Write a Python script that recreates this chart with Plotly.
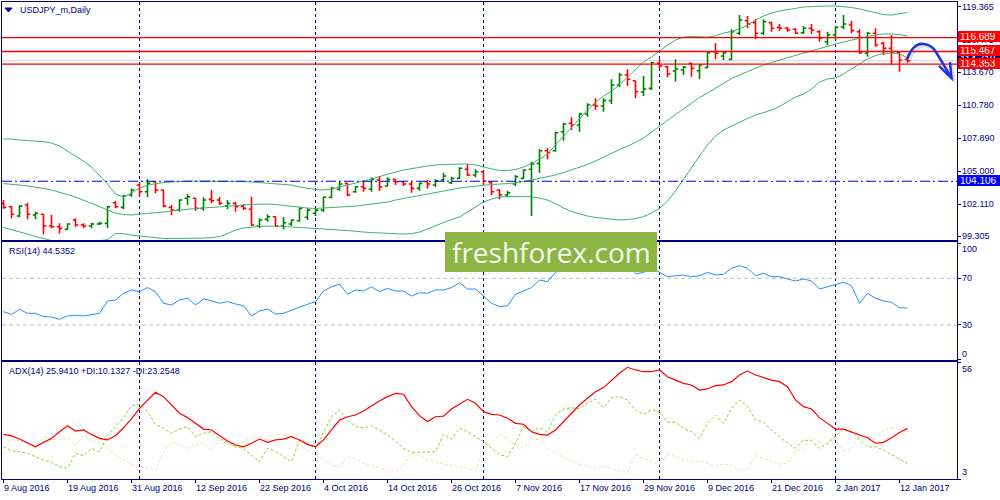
import plotly.graph_objects as go
from plotly.subplots import make_subplots
import pandas as pd

# ---------------- data ----------------
dates = pd.bdate_range("2016-08-09", periods=114)

opens = [102.17,101.87,101.06,102.02,101.15,101.21,100.18,100.12,99.89,100.71,
         100.27,100.18,100.36,100.42,102.22,101.82,102.90,103.77,103.19,104.06,
         103.34,101.82,101.58,102.61,102.61,101.73,102.52,102.46,101.93,102.17,
         101.93,101.65,100.18,100.77,101.00,100.18,100.36,100.65,100.95,101.30,
         101.58,102.70,103.40,103.92,103.19,103.62,103.40,104.21,103.69,104.27,
         104.06,103.86,103.48,104.06,103.77,104.21,103.97,104.36,105.15,104.65,
         104.94,104.01,103.34,102.90,103.86,104.36,105.15,105.67,106.78,106.78,
         108.44,109.18,109.03,109.99,110.78,110.69,111.16,112.53,113.41,112.91,
         111.92,112.24,114.43,114.13,113.76,113.84,114.43,113.78,114.05,115.45,
         115.07,114.78,117.06,118.16,117.99,117.06,117.99,117.58,117.50,117.41,
         117.11,117.50,117.20,116.32,116.91,117.61,117.78,117.20,115.31,117.06,
         116.18,115.74,115.36,114.78]
highs = [102.46,101.93,102.00,102.22,101.44,101.21,101.15,100.42,100.42,100.86,
         100.42,100.47,100.56,101.93,102.37,102.90,103.48,103.92,104.27,104.06,
         103.34,102.02,102.52,102.99,102.61,102.70,103.34,102.70,102.46,102.31,
         102.11,102.75,100.86,101.21,101.06,100.95,100.77,101.82,101.73,101.73,
         102.75,103.62,104.06,103.97,103.69,104.06,104.45,104.56,104.45,104.27,
         104.15,104.06,103.97,104.21,104.27,104.85,104.50,105.32,105.61,105.15,
         105.03,104.06,103.40,103.27,104.65,105.15,105.81,106.90,106.99,108.44,
         109.23,109.70,110.11,110.93,111.37,111.37,113.03,113.61,113.91,112.91,
         113.32,114.57,114.78,114.19,114.78,114.19,114.48,114.37,115.45,116.18,
         115.45,117.41,118.66,118.57,118.28,118.28,118.07,117.87,117.64,117.50,
         117.70,117.87,117.35,117.20,117.70,118.66,118.16,117.41,117.20,117.50,
         116.32,116.91,115.45,114.96]
lows = [101.70,100.86,100.95,100.77,100.77,99.46,99.98,99.54,99.83,100.12,
        99.98,99.98,100.27,99.98,101.73,101.65,102.75,102.81,102.70,103.05,
        101.82,101.15,101.44,102.02,101.52,101.52,102.17,102.02,101.65,101.44,
        101.58,100.18,99.98,100.56,100.12,99.89,100.18,100.56,100.71,101.06,
        101.44,102.61,103.27,102.81,103.10,103.19,103.19,103.27,103.62,103.77,
        103.69,103.10,103.27,103.48,103.62,104.06,103.86,104.27,104.56,104.45,
        103.77,102.90,102.52,102.75,103.69,104.27,101.06,104.85,106.02,106.69,
        107.65,108.59,108.44,109.75,110.34,110.19,110.87,112.33,112.44,111.37,
        111.57,112.09,113.91,113.21,112.82,113.41,113.26,113.03,113.99,114.78,
        114.72,114.72,116.91,117.50,116.53,116.91,117.20,117.29,117.20,117.00,
        117.00,117.00,116.32,116.03,116.47,117.41,117.06,115.25,115.01,115.88,
        115.16,114.28,113.70,114.48]
closes = [101.82,101.21,101.93,101.21,101.30,100.18,100.12,99.98,100.36,100.27,
          100.18,100.36,100.42,101.87,101.87,102.81,103.34,103.19,103.92,103.34,
          101.93,101.58,102.46,102.75,101.73,102.46,102.40,102.17,102.17,101.87,
          101.73,100.27,100.71,101.00,100.18,100.47,100.71,101.73,101.58,101.58,
          102.70,103.48,103.86,102.90,103.62,103.48,104.27,103.62,104.27,104.06,
          103.86,103.48,103.92,103.86,104.15,104.56,104.36,105.24,104.65,104.94,
          104.12,103.19,102.90,103.10,104.50,105.09,105.61,106.78,106.60,108.35,
          109.12,109.03,109.99,110.78,110.69,111.16,112.53,113.41,113.03,111.94,
          112.18,114.48,114.19,113.49,113.93,114.08,113.99,114.28,115.36,115.31,
          115.36,117.20,118.22,117.87,117.06,118.07,117.50,117.50,117.35,117.06,
          117.50,117.35,116.62,116.91,117.58,117.87,117.29,115.36,117.06,116.03,
          115.74,115.45,114.72,114.66]

bb_upper = [107.80,107.80,107.71,107.67,107.63,107.57,107.45,107.19,106.75,106.31,
            105.87,105.35,104.65,103.86,102.99,102.72,103.07,103.51,103.77,103.90,
            103.99,104.04,104.08,104.12,104.12,104.12,104.12,104.12,104.12,104.12,
            104.08,104.04,103.99,103.95,103.90,103.86,103.77,103.60,103.47,103.38,
            103.34,103.42,103.60,103.77,103.95,104.12,104.30,104.52,104.74,104.91,
            105.09,105.22,105.35,105.44,105.53,105.57,105.61,105.61,105.61,105.53,
            105.35,105.17,105.04,105.04,105.13,105.35,105.66,106.05,106.49,107.28,
            108.06,108.85,109.64,110.34,111.04,111.57,112.00,112.53,113.23,113.93,
            114.54,114.98,115.51,116.03,116.47,116.73,116.78,116.78,116.73,116.82,
            117.08,117.22,117.43,117.78,118.22,118.57,118.84,119.01,119.14,119.27,
            119.36,119.40,119.45,119.45,119.45,119.40,119.32,119.19,119.01,118.84,
            118.70,118.66,118.75,118.88]
bb_mid = [103.90,103.86,103.77,103.69,103.55,103.47,103.34,103.16,102.94,102.72,
          102.46,102.20,101.89,101.58,101.32,101.19,101.15,101.23,101.28,101.32,
          101.41,101.50,101.58,101.67,101.72,101.76,101.80,101.85,101.93,101.98,
          102.02,102.07,102.11,102.11,102.07,101.98,101.89,101.80,101.76,101.72,
          101.76,101.80,101.80,101.85,101.93,102.02,102.11,102.20,102.28,102.46,
          102.59,102.72,102.85,102.99,103.16,103.29,103.42,103.51,103.60,103.69,
          103.77,103.82,103.86,103.90,103.95,104.08,104.21,104.34,104.47,104.65,
          104.87,105.09,105.31,105.57,105.88,106.23,106.58,106.88,107.19,107.50,
          107.89,108.41,108.98,109.47,109.95,110.43,110.91,111.44,111.83,112.27,
          112.71,113.10,113.41,113.71,114.02,114.28,114.50,114.72,114.94,115.11,
          115.33,115.51,115.73,115.95,116.12,116.30,116.47,116.65,116.78,116.91,
          117.00,117.00,116.95,116.82]
bb_lower = [100.05,99.88,99.66,99.48,99.26,99.09,98.91,98.83,98.78,98.74,
            98.74,98.78,98.87,99.00,99.52,99.52,99.39,99.31,99.22,99.13,
            99.09,99.09,99.09,99.09,99.09,99.13,99.17,99.26,99.52,99.83,
            100.01,100.10,100.14,100.18,100.18,100.14,100.10,100.05,99.98,99.92,
            99.88,99.83,99.83,99.79,99.70,99.66,99.61,99.57,99.52,99.48,
            99.48,99.52,99.66,99.92,100.23,100.49,100.75,100.97,101.41,101.85,
            102.28,102.55,102.72,102.77,102.77,102.77,102.75,102.64,102.46,102.15,
            101.76,101.45,101.23,101.06,100.93,100.84,100.75,100.71,100.75,100.84,
            101.01,101.32,101.72,102.37,103.25,104.30,105.35,106.31,107.28,108.06,
            108.59,108.94,109.29,109.60,109.90,110.12,110.34,110.65,111.04,111.48,
            111.74,112.18,112.79,113.06,113.14,113.49,113.93,114.37,114.81,115.11,
            115.29,115.33,115.25,114.89]

rsi = [41.4,39.1,43.4,40.0,40.0,37.1,36.8,34.9,37.7,38.3,
       37.7,39.1,40.0,50.6,51.4,57.1,60.0,58.5,62.0,58.5,
       48.6,47.1,51.4,52.9,47.1,52.3,50.8,48.6,50.0,48.0,
       46.5,37.7,42.0,43.7,39.4,40.0,42.8,45.2,47.7,50.0,
       59.1,62.8,64.9,56.3,60.0,59.1,62.8,58.5,61.4,59.1,
       59.1,54.8,57.7,57.1,60.0,60.0,62.0,66.2,60.8,60.8,
       54.8,48.6,45.7,46.3,56.3,59.1,62.0,68.5,67.1,75.1,
       78.0,77.0,80.0,82.0,81.0,83.0,86.0,88.0,85.0,74.0,
       75.0,80.0,75.1,71.4,72.2,72.8,71.4,72.2,75.1,72.8,
       73.4,78.6,80.8,78.6,72.2,74.3,71.4,71.4,69.4,67.7,
       69.4,67.7,60.8,62.8,64.9,66.6,63.7,48.6,57.1,52.9,
       50.6,49.4,44.8,44.5352]

adx = [23.2,22.5,21.1,19.2,17.6,19.6,21.4,24.4,27.1,24.7,
       25.2,23.2,21.4,20.7,22.6,26.2,30.2,35.0,38.8,42.3,
       40.3,36.5,32.8,30.8,28.2,25.6,25.2,22.5,20.2,18.4,
       17.6,19.2,21.1,19.6,20.7,21.1,22.2,20.7,18.7,17.6,
       20.7,25.2,29.7,31.2,32.0,33.8,36.2,38.3,40.3,41.8,
       41.4,35.8,31.7,29.0,31.2,31.5,34.7,36.8,39.1,37.3,
       33.5,32.3,32.0,30.5,28.2,27.8,24.4,23.2,22.9,25.2,
       29.0,32.8,36.5,39.6,42.5,44.4,47.8,50.9,53.6,52.4,
       51.6,51.6,52.4,49.3,47.8,46.3,45.6,43.3,43.8,45.3,
       45.6,47.1,50.1,51.9,50.1,48.9,47.8,47.1,44.8,38.8,
       35.8,34.7,30.8,28.2,25.6,25.6,24.4,22.9,21.7,19.2,
       19.6,21.7,24.1,25.941]
plus_di = [17.6,15.7,15.4,14.6,13.1,11.6,10.6,8.6,7.9,14.6,
           13.6,16.9,15.4,22.9,26.7,30.8,36.2,36.8,33.5,27.8,
           26.0,23.7,25.6,26.7,22.2,23.7,24.4,21.4,19.6,17.6,
           16.9,13.9,10.8,16.9,15.4,13.1,10.8,20.7,19.2,16.9,
           24.4,31.2,34.3,29.7,26.7,26.2,27.1,25.2,22.9,20.2,
           16.9,15.1,15.1,15.1,15.4,23.2,21.1,26.0,24.4,22.2,
           19.9,16.9,14.0,13.1,19.2,26.7,24.4,26.2,24.4,32.0,
           34.7,35.3,34.7,37.3,39.2,35.3,39.8,40.3,38.8,34.3,
           32.3,34.3,33.5,28.7,28.7,26.0,24.4,21.4,28.2,32.0,
           28.2,35.0,38.8,35.8,29.7,28.7,25.2,22.2,19.2,16.9,
           20.7,20.2,16.9,19.2,22.2,25.6,24.4,20.7,17.6,17.6,
           16.1,13.9,12.0,10.1327]
minus_di = [18.7,21.1,20.2,19.2,16.9,22.2,21.1,20.7,21.7,18.4,
            22.9,20.2,19.9,16.9,13.9,11.6,9.7,8.6,8.1,6.6,
            15.4,19.6,18.7,16.9,18.7,19.2,16.1,20.7,18.7,18.1,
            19.6,22.2,22.2,20.7,23.2,22.9,21.7,18.7,15.7,13.6,
            12.0,9.3,8.6,13.1,12.0,10.1,9.0,7.9,7.1,6.3,
            9.3,14.6,13.6,11.6,10.6,9.7,9.3,8.6,7.9,7.1,
            16.9,19.2,22.9,21.4,18.4,16.9,21.4,20.7,16.9,14.6,
            13.1,11.2,9.7,8.6,7.9,8.6,7.9,6.6,6.0,13.9,
            12.4,10.8,9.3,14.6,13.1,11.6,10.6,11.2,10.1,9.0,
            9.7,9.3,7.1,7.1,13.6,12.4,11.2,9.7,10.1,15.4,
            16.9,21.1,19.9,18.4,21.1,15.4,16.9,22.9,22.2,21.4,
            25.2,26.2,26.2,23.2548]

red_levels = [116.689, 115.467, 114.353]
blue_level = 104.106
price_ticks = [119.365, 116.475, 113.670, 110.780, 107.890, 105.000, 102.110, 99.305]
rsi_ticks = [100, 70, 30, 0]
rsi_levels = [70, 30]
adx_ticks = [56, 3]
# hand-drawn forecast arrow (bar index, price)
arrow_x = [112.94, 113.81, 115.06, 116.06, 116.56, 118.44]
arrow_y = [114.81, 116.30, 116.12, 116.03, 115.42, 113.23]
head_x = [116.94, 118.50, 118.31]
head_y = [114.20, 113.14, 114.54]

# ---------------- figure ----------------
NAVY = "#000080"
FONT = "Liberation Sans, Arial, sans-serif"
FS = 9
idx = list(range(len(dates)))
month_starts = [i for i in range(1, len(dates)) if dates[i].month != dates[i - 1].month]
label_idx = list(range(0, len(dates), 8))
label_txt = [f"{dates[i].day} {dates[i].strftime('%b %Y')}" for i in label_idx]

fig = make_subplots(rows=3, cols=1, shared_xaxes=True, vertical_spacing=0)

band_line = dict(color="#3cb371", width=1)
fig.add_trace(go.Scatter(x=idx, y=bb_upper, mode="lines", line=band_line, hoverinfo="skip"), row=1, col=1)
fig.add_trace(go.Scatter(x=idx, y=bb_mid, mode="lines", line=band_line, hoverinfo="skip"), row=1, col=1)
fig.add_trace(go.Scatter(x=idx, y=bb_lower, mode="lines", line=band_line, hoverinfo="skip"), row=1, col=1)
fig.add_trace(go.Ohlc(x=idx, open=opens, high=highs, low=lows, close=closes,
                      increasing=dict(line=dict(color="#008000", width=1.6)),
                      decreasing=dict(line=dict(color="#ff0000", width=1.6)),
                      tickwidth=0.35, hoverinfo="skip"), row=1, col=1)

fig.add_trace(go.Scatter(x=idx, y=rsi, mode="lines", line=dict(color="#1e90ff", width=1),
                         hoverinfo="skip"), row=2, col=1)

fig.add_trace(go.Scatter(x=idx, y=minus_di, mode="lines",
                         line=dict(color="#f5deb3", width=1, dash="3px,2px"), hoverinfo="skip"), row=3, col=1)
fig.add_trace(go.Scatter(x=idx, y=plus_di, mode="lines",
                         line=dict(color="#9acd32", width=1, dash="3px,2px"), hoverinfo="skip"), row=3, col=1)
fig.add_trace(go.Scatter(x=idx, y=adx, mode="lines", line=dict(color="#ff0000", width=1.2),
                         hoverinfo="skip"), row=3, col=1)

xr = [-0.1875, 119.1875]
for r in (1, 2, 3):
    fig.update_xaxes(range=xr, showgrid=False, zeroline=False, showline=True, mirror=True,
                     linecolor=NAVY, linewidth=1, showticklabels=False, ticks="",
                     row=r, col=1)
fig.update_xaxes(ticks="outside", tickvals=label_idx, ticklen=3, tickcolor=NAVY, row=3, col=1)

yax_common = dict(showgrid=False, zeroline=False, showline=True, mirror=True, linecolor=NAVY,
                  linewidth=1, side="right", ticks="outside", ticklen=3, tickcolor=NAVY,
                  showticklabels=False)
fig.update_layout(
    width=1000, height=500,
    margin=dict(l=2, r=43, t=2, b=21),
    paper_bgcolor="white", plot_bgcolor="rgba(0,0,0,0)",
    showlegend=False, hovermode=False,
    font=dict(family=FONT, size=FS, color=NAVY),
    xaxis_rangeslider_visible=False,
    yaxis=dict(domain=[0.50105, 1.0], range=[98.96, 119.80], tickvals=price_ticks, **yax_common),
    yaxis2=dict(domain=[0.2495, 0.49686], range=[0, 101.1], tickvals=rsi_ticks, **yax_common),
    yaxis3=dict(domain=[0.0, 0.24528], range=[3, 56], tickvals=adx_ticks, **yax_common),
)

shapes = []
for m in month_starts:
    shapes.append(dict(type="line", xref="x", yref="paper", x0=m, x1=m, y0=0, y1=1,
                       line=dict(color=NAVY, width=1, dash="3px,3px"), layer="below"))
for lv in rsi_levels:
    shapes.append(dict(type="line", xref="x domain", yref="y2", x0=0, x1=1, y0=lv, y1=lv,
                       line=dict(color="#c0c0c0", width=1, dash="4px,3px"), layer="below"))
shapes.append(dict(type="line", xref="x domain", yref="y", x0=0, x1=1, y0=closes[-1], y1=closes[-1],
                   line=dict(color="#d3d3d3", width=1), layer="below"))
shapes.append(dict(type="line", xref="x domain", yref="y", x0=0, x1=1, y0=blue_level, y1=blue_level,
                   line=dict(color="#0000e0", width=1.2, dash="10px,3px,2px,3px"), layer="above"))
for lv in red_levels:
    shapes.append(dict(type="line", xref="x domain", yref="y", x0=0, x1=1, y0=lv, y1=lv,
                       line=dict(color="#ff0000", width=1.3), layer="above"))


def path_of(xs, ys):
    return "M " + " L ".join(f"{a},{b}" for a, b in zip(xs, ys))


def smooth_path(xs, ys):
    return (f"M {xs[0]},{ys[0]} Q {xs[1]},{ys[1]} {xs[2]},{ys[2]} "
            f"Q {xs[3]},{ys[3]} {xs[4]},{ys[4]} L {xs[5]},{ys[5]}")


# arrow shadow
sh_x = [v + 0.25 for v in arrow_x]
sh_y = [v - 0.2 for v in arrow_y]
shapes.append(dict(type="path", xref="x", yref="y", path=smooth_path(sh_x, sh_y),
                   line=dict(color="rgba(110,110,140,0.22)", width=3), layer="above"))
shapes.append(dict(type="path", xref="x", yref="y",
                   path=path_of([v + 0.25 for v in head_x], [v - 0.2 for v in head_y]),
                   line=dict(color="rgba(110,110,140,0.22)", width=3), layer="above"))
shapes.append(dict(type="path", xref="x", yref="y", path=smooth_path(arrow_x, arrow_y),
                   line=dict(color="#1f35d8", width=2.5), layer="above"))
shapes.append(dict(type="path", xref="x", yref="y", path=path_of(head_x, head_y),
                   line=dict(color="#1f35d8", width=2.5), layer="above"))
# title triangle
shapes.append(dict(type="path", xref="paper", yref="paper",
                   path="M 0.0031,0.9874 L 0.0105,0.9874 L 0.0068,0.9790 Z",
                   fillcolor=NAVY, line=dict(color=NAVY, width=1), layer="above"))
# watermark box
shapes.append(dict(type="rect", xref="paper", yref="paper", x0=0.4639, x1=0.6859, y0=0.4340, y1=0.5178,
                   fillcolor="#8db543", line=dict(width=0), layer="above"))

ann = []
for i, t in zip(label_idx, label_txt):
    ann.append(dict(x=i - 0.15, xref="x", y=0, yref="paper", text=t, showarrow=False,
                    xanchor="left", yanchor="top", yshift=-2, font=dict(size=FS, color=NAVY)))
for v in price_ticks:
    ann.append(dict(x=1, xref="paper", y=v, yref="y", text=f"{v:.3f}", showarrow=False,
                    xanchor="left", yanchor="middle", xshift=3, font=dict(size=FS, color=NAVY)))
for v in rsi_ticks:
    shift = -6 if v == 100 else (6 if v == 0 else 0)
    ann.append(dict(x=1, xref="paper", y=v, yref="y2", text=str(v), showarrow=False,
                    xanchor="left", yanchor="middle", xshift=3, yshift=shift,
                    font=dict(size=FS, color=NAVY)))
for v in adx_ticks:
    shift = -7 if v == 56 else 7
    ann.append(dict(x=1, xref="paper", y=v, yref="y3", text=str(v), showarrow=False,
                    xanchor="left", yanchor="middle", xshift=3, yshift=shift,
                    font=dict(size=FS, color=NAVY)))


def box(v, color):
    return dict(x=1, xref="paper", y=v, yref="y", text=f"{v:.3f}", showarrow=False,
                xanchor="left", yanchor="middle", xshift=1, yshift=1, width=38, height=7,
                align="left", bgcolor=color, bordercolor=color, borderwidth=1, borderpad=1,
                font=dict(size=FS + 1, color="white"))


ann.append(box(closes[-1] + 0.05, NAVY))
ann.append(box(blue_level, "#0000ff"))
for lv in red_levels:
    ann.append(box(lv, "#ff0000"))

ann.append(dict(x=0.01675, xref="paper", y=0.9832, yref="paper", text="USDJPY_m,Daily",
                showarrow=False, xanchor="left", yanchor="middle", font=dict(size=FS, color=NAVY)))
ann.append(dict(x=0.00524, xref="paper", y=0.4780, yref="paper", text=f"RSI(14) {rsi[-1]:.4f}",
                showarrow=False, xanchor="left", yanchor="middle", font=dict(size=FS, color=NAVY)))
ann.append(dict(x=0.00524, xref="paper", y=0.2264, yref="paper",
                text=f"ADX(14) {adx[-1]:.4f} +DI:{plus_di[-1]:.4f} -DI:{minus_di[-1]:.4f}",
                showarrow=False, xanchor="left", yanchor="middle", font=dict(size=FS, color=NAVY)))
ann.append(dict(x=0.5749, xref="paper", y=0.4759, yref="paper", text="freshforex.com",
                showarrow=False, xanchor="center", yanchor="middle",
                font=dict(family="Open Sans, sans-serif", size=28, color="#f4f8ee")))

fig.update_layout(shapes=shapes, annotations=ann)
fig.write_html("out.html", config={"displayModeBar": False, "staticPlot": True},
               post_script="document.body.style.margin='0';document.body.style.overflow='hidden';")
